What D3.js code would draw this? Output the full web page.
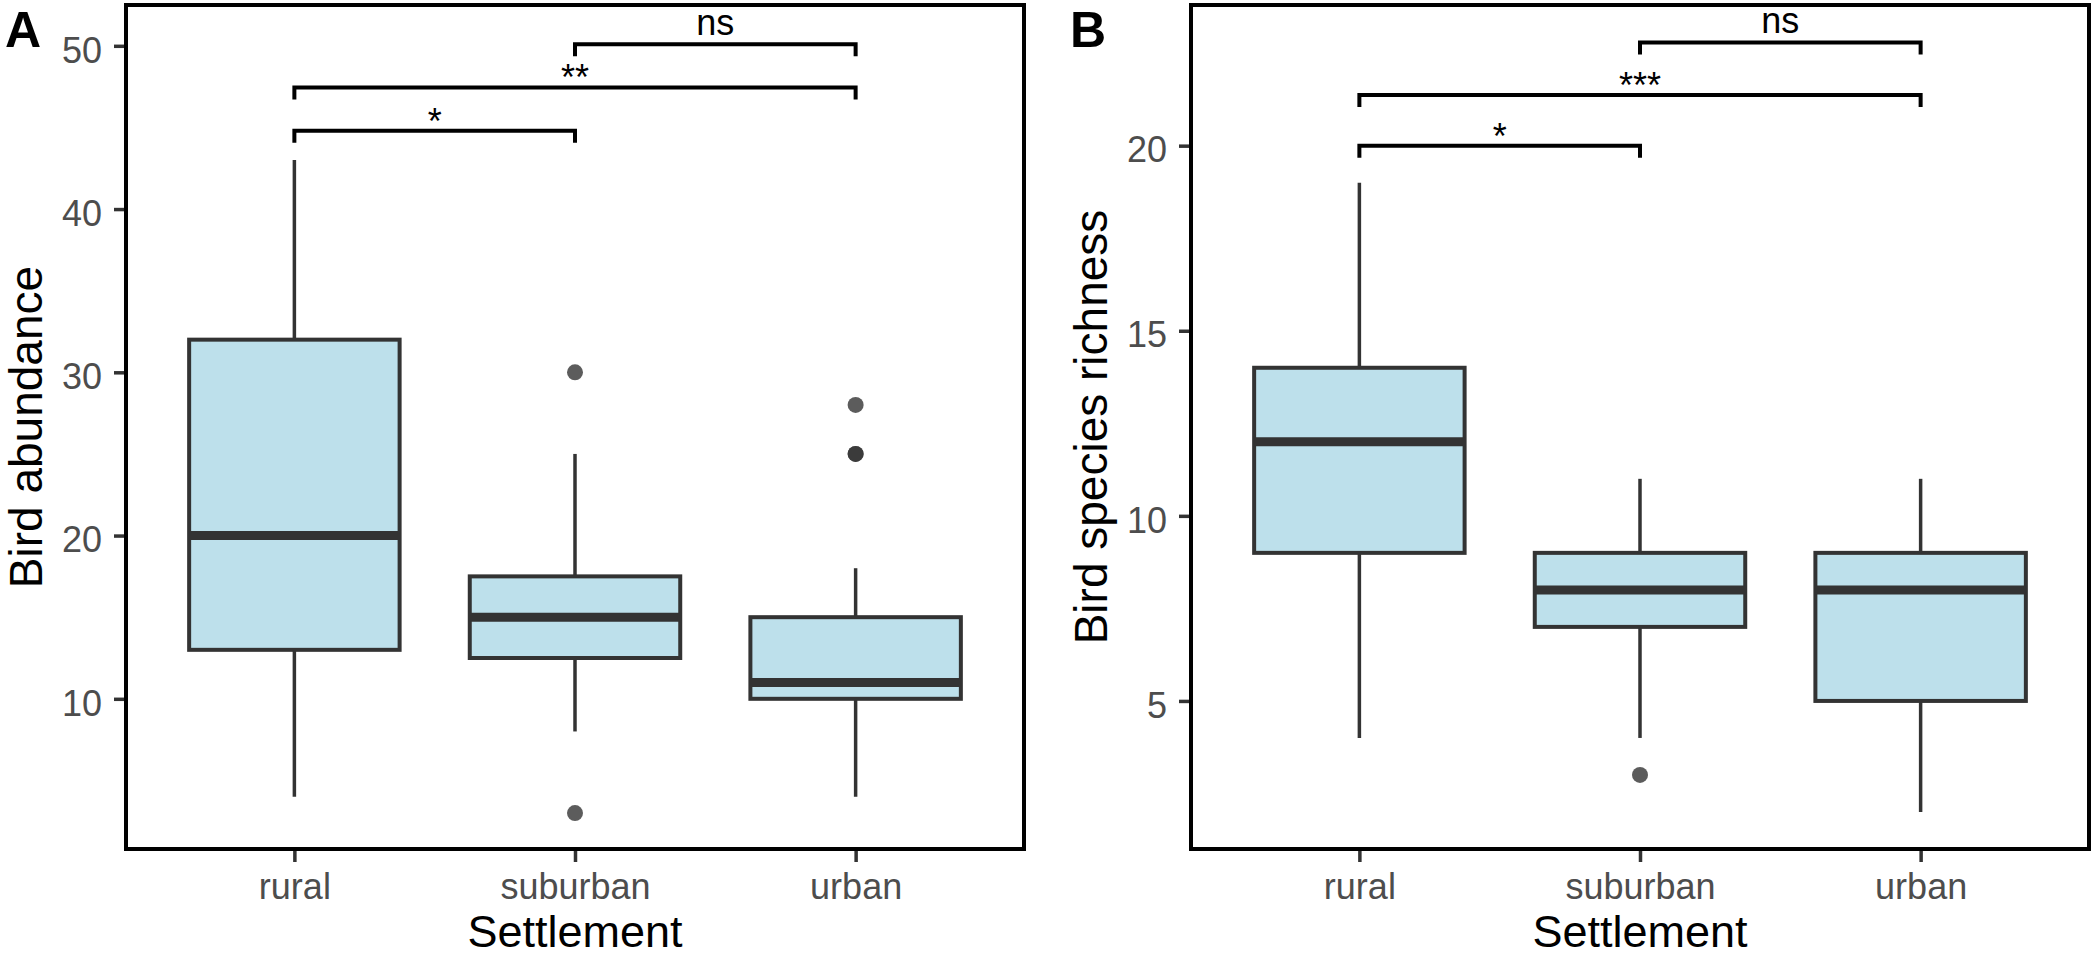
<!DOCTYPE html>
<html>
<head>
<meta charset="UTF-8">
<style>
  body { margin: 0; background: #fff; }
  svg { display: block; font-family: "Liberation Sans", Arial, sans-serif; }
  .tick text { fill: #4d4d4d; font-size: 36px; }
  .tick line { stroke: #333333; stroke-width: 3.5; }
</style>
</head>
<body>
<svg></svg>
<script src="https://d3js.org/d3.v7.min.js"></script>
<script>
// ---- data ----
const settlements = ["rural", "suburban", "urban"];

// box stats per settlement: [lower whisker, Q1, median, Q3, upper whisker]
const abundanceBoxes = [[4, 13, 20, 32, 43], [8, 12.5, 15, 17.5, 25], [4, 10, 11, 15, 18]];
const abundanceOutliers = [[], [30, 3], [28, 25, 25]];
const abundanceBrackets = [["rural", "suburban", 44.8, "*"], ["rural", "urban", 47.45, "**"], ["suburban", "urban", 50.1, "ns"]];
const abundanceTicks = [10, 20, 30, 40, 50];
const abundanceDomain = [0.8, 52.5];

const richnessBoxes = [[4, 9, 12, 14, 19], [4, 7, 8, 9, 11], [2, 5, 8, 9, 11]];
const richnessOutliers = [[], [3], []];
const richnessBrackets = [["rural", "suburban", 20.0, "*"], ["rural", "urban", 21.37, "***"], ["suburban", "urban", 22.79, "ns"]];
const richnessTicks = [5, 10, 15, 20];
const richnessDomain = [1.0, 23.8];

// ---- layout ----
const width = 2095, height = 958;
const panelTop = 5, panelBottom = 849, panelWidth = 898;
const boxFill = "lightblue", lineCol = "#333333";

let svg = d3.select("svg")
    .attr("width", width)
    .attr("height", height)
    .attr("viewBox", "0 0 " + width + " " + height);

// used to find where a label's glyphs really end (asterisks sit high)
let ctx = document.createElement("canvas").getContext("2d");
ctx.font = "36px 'Liberation Sans'";

function drawPanel(left, letter, yTitle, boxes, outliers, brackets, ticks, domain) {
    let g = svg.append("g");

    let x = d3.scalePoint()
        .domain(settlements)
        .range([left, left + panelWidth])
        .padding(0.6);
    let y = d3.scaleLinear()
        .domain(domain)
        .range([panelBottom, panelTop]);
    let bw = x.step() * 0.75;

    // axes
    let yAxis = g.append("g")
        .attr("transform", "translate(" + left + ",0)")
        .call(d3.axisLeft(y).tickValues(ticks).tickSize(12).tickPadding(12));
    yAxis.select(".domain").remove();
    yAxis.selectAll("text").attr("dy", "0.45em");

    let xAxis = g.append("g")
        .attr("transform", "translate(0," + panelBottom + ")")
        .call(d3.axisBottom(x).tickSize(13).tickPadding(11));
    xAxis.select(".domain").remove();

    // whiskers
    let boxG = g.append("g");
    boxG.selectAll(".whisker")
        .data(boxes.flatMap((b, i) => [[i, b[0], b[1]], [i, b[3], b[4]]]))
        .enter()
        .append("line")
        .attr("class", "whisker")
        .attr("x1", d => x(settlements[d[0]]))
        .attr("x2", d => x(settlements[d[0]]))
        .attr("y1", d => y(d[1]))
        .attr("y2", d => y(d[2]))
        .attr("stroke", lineCol)
        .attr("stroke-width", 3.5);

    // boxes
    boxG.selectAll("rect")
        .data(boxes)
        .enter()
        .append("rect")
        .attr("x", (d, i) => x(settlements[i]) - bw / 2)
        .attr("y", d => y(d[3]))
        .attr("width", bw)
        .attr("height", d => y(d[1]) - y(d[3]))
        .attr("fill", boxFill)
        .attr("fill-opacity", 0.8)
        .attr("stroke", lineCol)
        .attr("stroke-width", 4);

    // medians
    boxG.selectAll(".median")
        .data(boxes)
        .enter()
        .append("line")
        .attr("class", "median")
        .attr("x1", (d, i) => x(settlements[i]) - bw / 2)
        .attr("x2", (d, i) => x(settlements[i]) + bw / 2)
        .attr("y1", d => y(d[2]))
        .attr("y2", d => y(d[2]))
        .attr("stroke", lineCol)
        .attr("stroke-width", 9);

    // outliers
    boxG.selectAll("circle")
        .data(outliers.flatMap((o, i) => o.map(v => [i, v])))
        .enter()
        .append("circle")
        .attr("cx", d => x(settlements[d[0]]))
        .attr("cy", d => y(d[1]))
        .attr("r", 8)
        .attr("fill", lineCol)
        .attr("fill-opacity", 0.8);

    // significance brackets
    let tip = 10;
    let brG = g.append("g");
    brG.selectAll("path")
        .data(brackets)
        .enter()
        .append("path")
        .attr("d", d => "M" + x(d[0]) + "," + (y(d[2]) + tip) + "V" + y(d[2]) + "H" + x(d[1]) + "V" + (y(d[2]) + tip))
        .attr("fill", "none")
        .attr("stroke", "black")
        .attr("stroke-width", 4)
        .attr("stroke-linecap", "square");

    brG.selectAll("text")
        .data(brackets)
        .enter()
        .append("text")
        .attr("x", d => (x(d[0]) + x(d[1])) / 2)
        .attr("y", d => y(d[2]) - 9 - ctx.measureText(d[3]).actualBoundingBoxDescent)
        .attr("text-anchor", "middle")
        .style("font-size", "36px")
        .attr("fill", "black")
        .text(d => d[3]);

    // panel border
    g.append("rect")
        .attr("x", left)
        .attr("y", panelTop)
        .attr("width", panelWidth)
        .attr("height", panelBottom - panelTop)
        .attr("fill", "none")
        .attr("stroke", "black")
        .attr("stroke-width", 4);

    // titles
    g.append("text")
        .attr("transform", "translate(" + (left - 84) + "," + ((panelTop + panelBottom) / 2) + ") rotate(-90)")
        .attr("text-anchor", "middle")
        .style("font-size", "46px")
        .text(yTitle);

    g.append("text")
        .attr("x", left + panelWidth / 2)
        .attr("y", 947)
        .attr("text-anchor", "middle")
        .style("font-size", "45px")
        .text("Settlement");

    g.append("text")
        .attr("x", left - 121)
        .attr("y", 47)
        .style("font-size", "50px")
        .style("font-weight", "bold")
        .text(letter);
}

drawPanel(126, "A", "Bird abundance", abundanceBoxes, abundanceOutliers, abundanceBrackets, abundanceTicks, abundanceDomain);
drawPanel(1191, "B", "Bird species richness", richnessBoxes, richnessOutliers, richnessBrackets, richnessTicks, richnessDomain);
</script>
</body>
</html>
